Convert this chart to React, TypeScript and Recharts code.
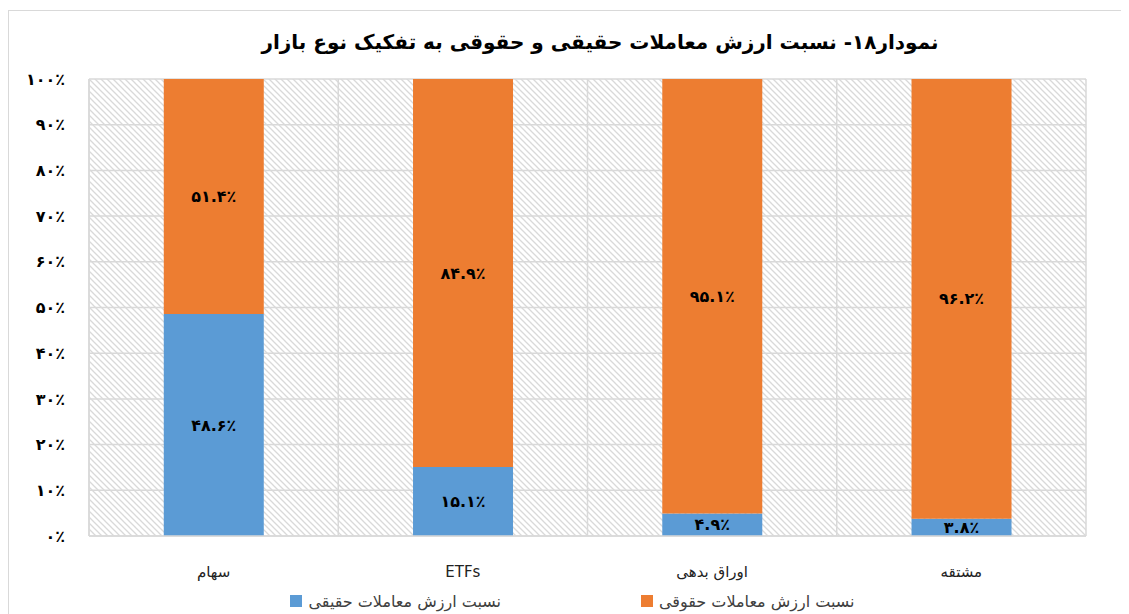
import { Bar, BarChart, CartesianGrid, LabelList, Legend, XAxis, YAxis } from 'recharts';

const categories = ['سهام', 'ETFs', 'اوراق بدهی', 'مشتقه'];
const haghighi = [48.6, 15.1, 4.9, 3.8];
const hoghoghi = [51.4, 84.9, 95.1, 96.2];
const yTicks = [0, 10, 20, 30, 40, 50, 60, 70, 80, 90, 100];

const title = 'نمودار۱۸- نسبت ارزش معاملات حقیقی و حقوقی به تفکیک نوع بازار';
const nameHaghighi = 'نسبت ارزش معاملات حقیقی';
const nameHoghoghi = 'نسبت ارزش معاملات حقوقی';
const legendOrder = [nameHaghighi, nameHoghoghi];

const BLUE = '#5b9bd5';
const ORANGE = '#ed7d31';
const GRID = '#d9d9d9';
const FONT = '"DejaVu Sans", sans-serif';

const faDigits = '۰۱۲۳۴۵۶۷۸۹';
const toFa = (s: string) => s.replace(/[0-9]/g, (d) => faDigits[Number(d)]);
const pct = (v: number) => toFa(String(v)) + '٪';

const data = categories.map((name, i) => ({ name, haghighi: haghighi[i], hoghoghi: hoghoghi[i] }));

function LegendBox({ payload }: any) {
  const items = [...(payload || [])].sort((a: any, b: any) => legendOrder.indexOf(a.value) - legendOrder.indexOf(b.value));
  return (
    <div
      style={{
        height: 38,
        boxSizing: 'border-box',
        paddingTop: 12,
        paddingLeft: 50,
        display: 'flex',
        justifyContent: 'center',
        alignItems: 'center',
        gap: 140,
        fontFamily: FONT,
        fontSize: 16,
        color: '#404040',
      }}
    >
      {items.map((p: any) => (
        <div key={p.value} style={{ display: 'flex', alignItems: 'center', gap: 6 }}>
          <span style={{ width: 12, height: 12, background: p.color, display: 'inline-block' }} />
          <span>{p.value}</span>
        </div>
      ))}
    </div>
  );
}

export default function App() {
  return (
    <div
      style={{
        position: 'relative',
        marginTop: 2,
        width: 1120,
        height: 603,
        borderTop: `1px solid ${GRID}`,
        borderLeft: `1px solid ${GRID}`,
        background: '#fff',
      }}
    >
      <div
        style={{
          position: 'absolute',
          top: 19,
          left: 591,
          transform: 'translateX(-50%)',
          whiteSpace: 'nowrap',
          fontFamily: FONT,
          fontWeight: 'bold',
          fontSize: 20,
          color: '#000',
          direction: 'rtl',
        }}
      >
        {title}
      </div>
      <BarChart
        width={1120}
        height={603}
        data={data}
        margin={{ top: 68, right: 43, bottom: 0, left: 0 }}
        barCategoryGap="30%"
      >
        <defs>
          <pattern id="hatch" patternUnits="userSpaceOnUse" width={6} height={6}>
            <rect width={6} height={6} fill="#fff" />
            <path d="M0,0 L6,6 M-1,5 L1,7 M5,-1 L7,1" stroke={GRID} strokeWidth={1.3} />
          </pattern>
        </defs>
        <CartesianGrid
          fill="url(#hatch)"
          stroke={GRID}
          strokeWidth={1.5}
          verticalCoordinatesGenerator={({ offset }: any) =>
            categories.concat(['']).map((_, i) => offset.left + (i * offset.width) / categories.length)
          }
        />
        <XAxis
          dataKey="name"
          height={40}
          axisLine={{ stroke: GRID, strokeWidth: 1.5 }}
          tickLine={false}
          tickMargin={24}
          tick={{ fontFamily: FONT, fontSize: 15, fill: '#222' }}
        />
        <YAxis
          width={80}
          domain={[0, 100]}
          ticks={yTicks}
          interval={0}
          tickFormatter={pct}
          axisLine={{ stroke: GRID, strokeWidth: 1.5 }}
          tickLine={false}
          tickMargin={18}
          tick={{ fontFamily: FONT, fontSize: 16, fontWeight: 'bold', fill: '#000' }}
        />
        <Legend verticalAlign="bottom" height={38} content={<LegendBox />} />
        <Bar dataKey="haghighi" name={nameHaghighi} stackId="a" fill={BLUE} isAnimationActive={false}>
          <LabelList
            dataKey="haghighi"
            position="center"
            formatter={(v: any) => pct(v)}
            style={{ fontFamily: FONT, fontSize: 16, fontWeight: 'bold', fill: '#000' }}
          />
        </Bar>
        <Bar dataKey="hoghoghi" name={nameHoghoghi} stackId="a" fill={ORANGE} isAnimationActive={false}>
          <LabelList
            dataKey="hoghoghi"
            position="center"
            formatter={(v: any) => pct(v)}
            style={{ fontFamily: FONT, fontSize: 16, fontWeight: 'bold', fill: '#000' }}
          />
        </Bar>
      </BarChart>
    </div>
  );
}
